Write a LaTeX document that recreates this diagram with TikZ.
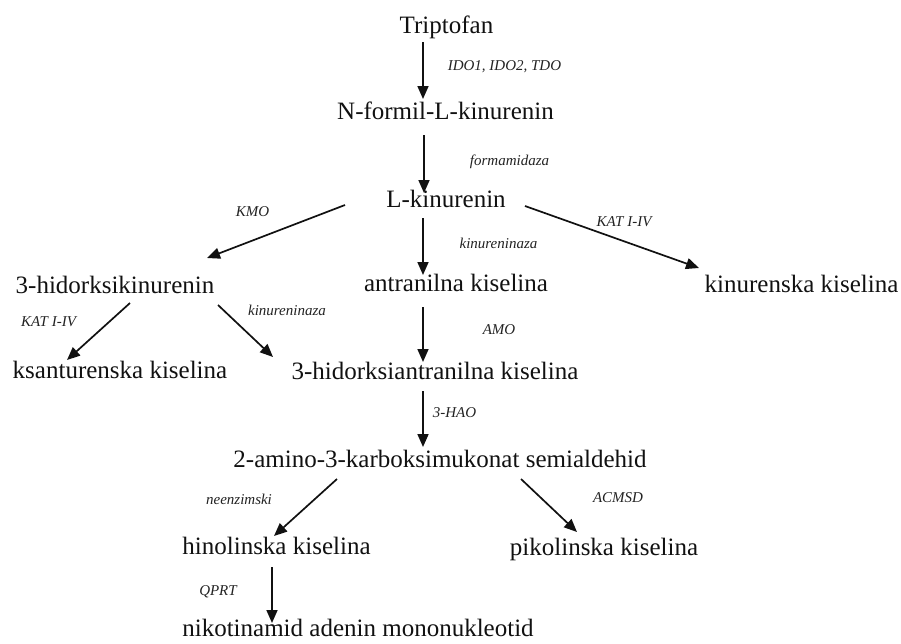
\documentclass[tikz,border=0pt]{standalone}
\usepackage{fontspec}
\setmainfont{Liberation Serif}
\usetikzlibrary{calc,arrows.meta}
\definecolor{txt}{HTML}{111111}
\definecolor{lbl}{HTML}{222222}
\tikzset{
  comp/.style={anchor=base, inner sep=0pt, text=txt, font=\fontsize{25}{30}\selectfont},
  enz/.style={anchor=center, inner sep=0pt, text=lbl, font=\fontsize{15}{18}\selectfont\itshape},
  arr/.style={draw=txt, line width=1.7pt, -{Triangle[length=13pt,width=11pt]}}
}
\begin{document}
\begin{tikzpicture}[x=1pt,y=-1pt]
\useasboundingbox (0,0) rectangle (901,643);
% compounds
\node[comp] (trp)  at (446.5,33)  {Triptofan};
\node[comp] (nfk)  at (445.5,119) {N-formil-L-kinurenin};
\node[comp] (lkyn) at (446,207)   {L-kinurenin};
\node[comp] (hk)   at (115,293)   {3-hidorksikinurenin};
\node[comp] (aa)   at (456,291)   {antranilna kiselina};
\node[comp] (kyna) at (801.5,292) {kinurenska kiselina};
\node[comp] (xa)   at (120,378)   {ksanturenska kiselina};
\node[comp] (haa)  at (435,379)   {3-hidorksiantranilna kiselina};
\node[comp] (acms) at (440,467)   {2-amino-3-karboksimukonat semialdehid};
\node[comp] (qa)   at (276.5,554) {hinolinska kiselina};
\node[comp] (pa)   at (604,555)   {pikolinska kiselina};
\node[comp] (nmn)  at (358,636)   {nikotinamid adenin mononukleotid};
% enzymes
\node[enz] (e1)  at (504.5,67)  {IDO1, IDO2, TDO};
\node[enz] (e2)  at (509.5,162) {formamidaza};
\node[enz] (e3)  at (252.5,212) {KMO};
\node[enz] (e4)  at (624,222)   {KAT I-IV};
\node[enz] (e5)  at (498.5,243) {kinureninaza};
\node[enz] (e6)  at (287,310)   {kinureninaza};
\node[enz] (e7)  at (48.5,322)  {KAT I-IV};
\node[enz] (e8)  at (499,330)   {AMO};
\node[enz] (e9)  at (454.5,413) {3-HAO};
\node[enz] (e10) at (239,499)   {neenzimski};
\node[enz] (e11) at (618,498)   {ACMSD};
\node[enz] (e12) at (218,592)   {QPRT};
% arrows
\draw[arr] ($(trp.base)+(-23.5,9)$)  -- ($(nfk.base)+(-22.5,-20)$);
\draw[arr] ($(nfk.base)+(-21.5,16)$) -- ($(lkyn.base)+(-22,-14)$);
\draw[arr] ($(lkyn.base)+(-101,-2)$) -- ($(hk.base)+(92,-35)$);
\draw[arr] ($(lkyn.base)+(-23,11)$)  -- ($(aa.base)+(-33,-16)$);
\draw[arr] ($(lkyn.base)+(79,-1)$)   -- ($(kyna.base)+(-102.5,-24)$);
\draw[arr] ($(hk.base)+(15,10)$)     -- ($(xa.base)+(-53,-18)$);
\draw[arr] ($(hk.base)+(103,12)$)    -- ($(haa.base)+(-162,-22)$);
\draw[arr] ($(aa.base)+(-33,16)$)    -- ($(haa.base)+(-12,-17)$);
\draw[arr] ($(haa.base)+(-12,12)$)   -- ($(acms.base)+(-17,-20)$);
\draw[arr] ($(acms.base)+(-103,12)$) -- ($(qa.base)+(-2.5,-18)$);
\draw[arr] ($(acms.base)+(81,12)$)   -- ($(pa.base)+(-27,-23)$);
\draw[arr] ($(qa.base)+(-4.5,13)$)   -- ($(nmn.base)+(-86,-13)$);
\end{tikzpicture}
\end{document}
